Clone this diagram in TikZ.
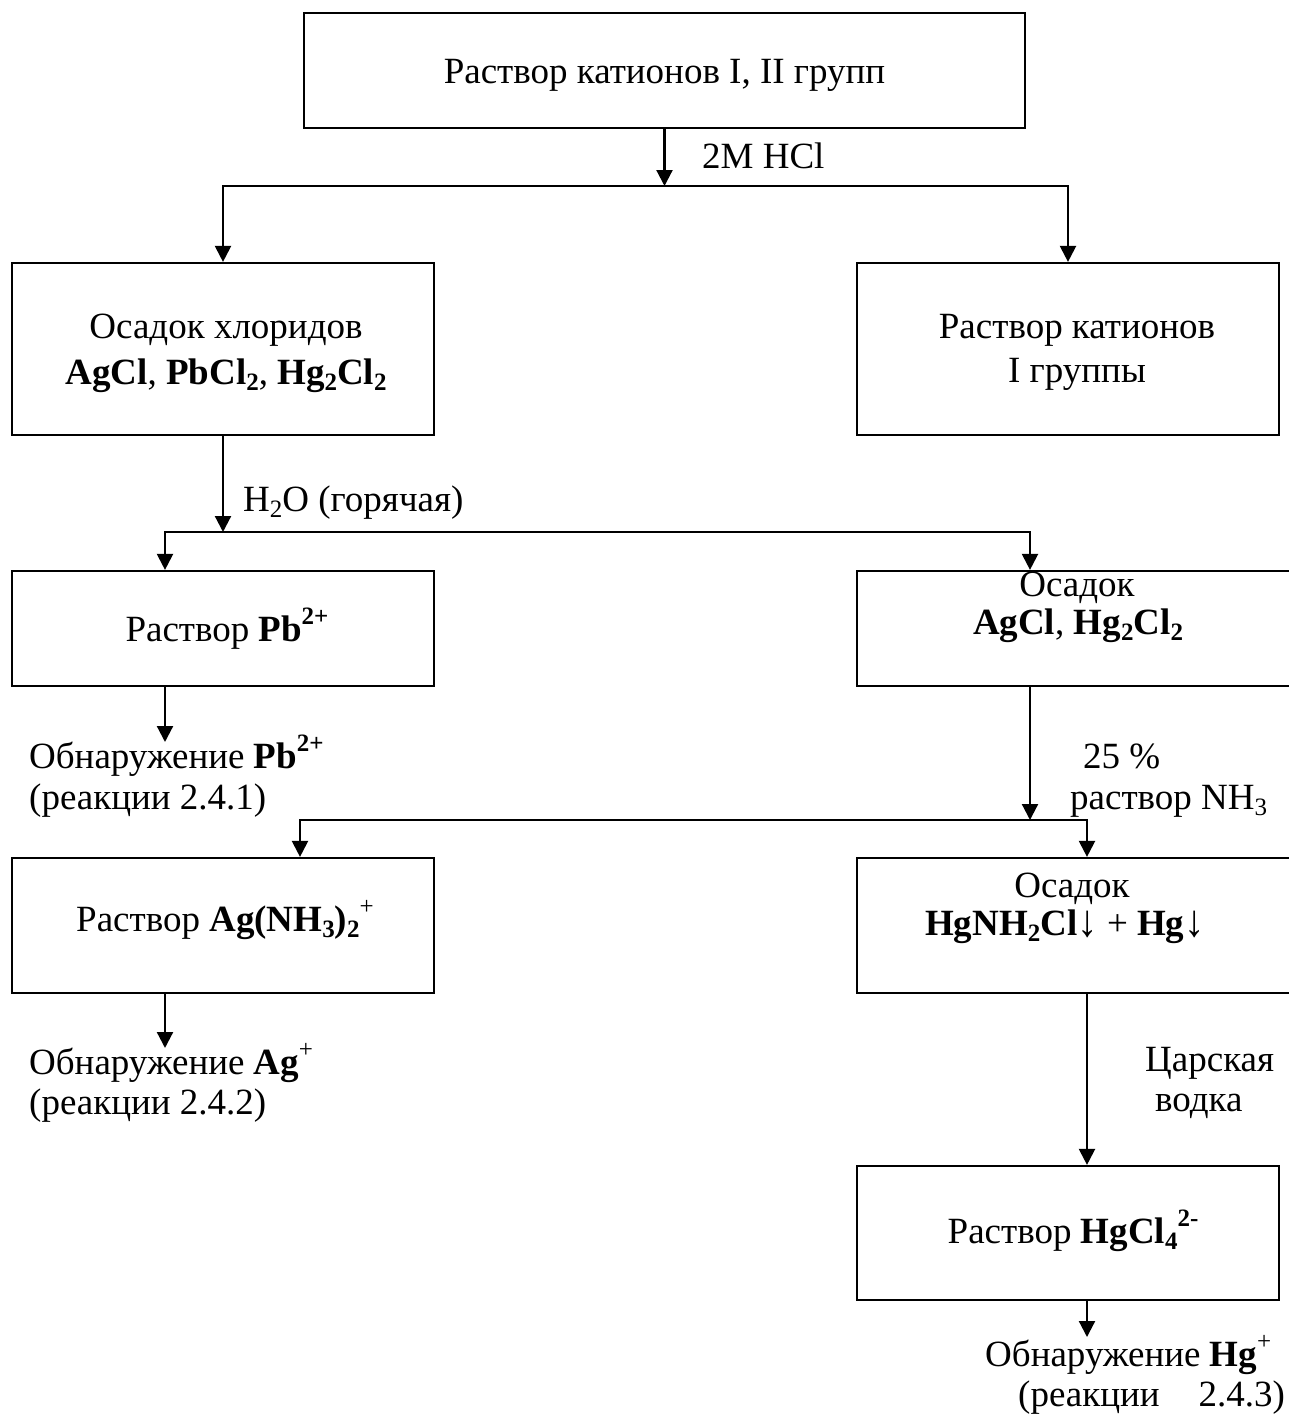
\documentclass[tikz,border=0pt]{standalone}
\usepackage{fontspec}
\setmainfont{Liberation Serif}
\usetikzlibrary{arrows.meta}
% chemical indices: lowered subscript, raised superscript
\newcommand{\chsub}[1]{\raisebox{-0.17em}{\fontsize{25}{25}\selectfont #1}}
\newcommand{\chsup}[1]{\raisebox{0.45em}{\fontsize{25}{25}\selectfont #1}}
% precipitate arrow, about as tall as a capital letter
\newcommand{\precip}{\raisebox{-0.04em}{\scalebox{1.1}[1.22]{↓}}}
\tikzset{
  box/.style={draw, rectangle, line width=2.2pt, inner sep=0pt},
  txt/.style={inner sep=0pt, anchor=base, font=\fontsize{37}{44}\selectfont},
  txtl/.style={txt, anchor=base west},
  link/.style={line width=2.2pt, line cap=rect},
  arr/.style={line width=2.2pt, -{Triangle[width=16pt,length=16pt]}},
}
\begin{document}
\begin{tikzpicture}[x=1pt, y=-1pt]
\useasboundingbox (0,0) rectangle (1289,1419);
\fill[white] (0,0) rectangle (1289,1419);
\clip (0,0) rectangle (1289,1419);

% boxes
\node[box, minimum width=721pt, minimum height=115pt] (top)  at (664.5,70.5) {};
\node[box, minimum width=422pt, minimum height=172pt] (chl)  at (223,349) {};
\node[box, minimum width=422pt, minimum height=172pt] (cat1) at (1068,349) {};
\node[box, minimum width=422pt, minimum height=115pt] (pb)   at (223,628.5) {};
\node[box, minimum width=443pt, minimum height=115pt] (agcl) at (1078.5,628.5) {};
\node[box, minimum width=422pt, minimum height=135pt] (agnh) at (223,925.5) {};
\node[box, minimum width=443pt, minimum height=135pt] (hgnh) at (1078.5,925.5) {};
\node[box, minimum width=422pt, minimum height=134pt] (hgcl) at (1068,1233) {};

% box texts
\node[txt] (topT) at (664.5,83) {Раствор катионов I, II групп};
\node[txt] (chlA) at (226,338) {Осадок хлоридов};
\node[txt] (chlB) at (226,384) {\textbf{AgCl}, \textbf{PbCl\chsub{2}}, \textbf{Hg\chsub{2}Cl\chsub{2}}};
\node[txt] (catA) at (1077,338) {Раствор катионов};
\node[txt] (catB) at (1077,382) {I группы};
\node[txt] (pbT)  at (227,641) {Раствор \textbf{Pb\chsup{2+}}};
\node[txt] (agclA) at (1077,596) {Осадок};
\node[txt] (agclB) at (1078,634) {\textbf{AgCl}, \textbf{Hg\chsub{2}Cl\chsub{2}}};
\node[txt] (agnhT) at (225,931) {Раствор \textbf{Ag(NH\chsub{3})\chsub{2}}\chsup{+}};
\node[txt] (hgnhA) at (1072,897) {Осадок};
\node[txt] (hgnhB) at (1065,935) {\textbf{HgNH\chsub{2}Cl\precip} + \textbf{Hg\precip}};
\node[txt] (hgclT) at (1073,1243) {Раствор \textbf{HgCl\chsub{4}\chsup{2-}}};

% reagent labels
\node[txtl] (hcl)  at (702,168) {2M HCl};
\node[txtl] (h2o)  at (243,511) {H\chsub{2}O (горячая)};
\node[txtl] (nh3a) at (1083,768) {25~\%};
\node[txtl] (nh3b) at (1070,809) {раствор NH\chsub{3}};
\node[txtl] (aqa)  at (1145,1071) {Царская};
\node[txtl] (aqb)  at (1155,1111) {водка};

% detection notes
\node[txtl] (d1a) at (29,768)  {Обнаружение \textbf{Pb\chsup{2+}}};
\node[txtl] (d1b) at (29,809)  {(реакции 2.4.1)};
\node[txtl] (d2a) at (29,1074) {Обнаружение \textbf{Ag}\chsup{+}};
\node[txtl] (d2b) at (29,1114) {(реакции 2.4.2)};
\node[txtl] (d3a) at (985,1366) {Обнаружение \textbf{Hg}\chsup{+}};
\node[txtl] (d3b) at (1018,1406) {(реакции\hspace{39pt}2.4.3)};

% junctions and arrow ends
\coordinate (j1)  at (664.5,186);
\coordinate (j2)  at (223,532);
\coordinate (j2l) at (165,532);
\coordinate (j2r) at (1030,532);
\coordinate (j3)  at (1030,820);
\coordinate (j3l) at (300,820);
\coordinate (j3r) at (1087,820);
\coordinate (e1)  at (165,742);
\coordinate (e2)  at (165,1048);
\coordinate (e3)  at (1087,1337);

% 2M HCl split
\draw[arr] (top.south) -- (j1);
\draw[link] (j1 -| chl.north) -- (j1 -| cat1.north);
\draw[arr] (j1 -| chl.north) -- (chl.north);
\draw[arr] (j1 -| cat1.north) -- (cat1.north);

% hot water split
\draw[arr] (chl.south) -- (j2);
\draw[link] (j2l) -- (j2r);
\draw[arr] (j2l) -- (j2l |- pb.north);
\draw[arr] (j2r) -- (j2r |- agcl.north);
\draw[arr] (pb.south -| e1) -- (e1);

% ammonia split
\draw[arr] (agcl.south -| j3) -- (j3);
\draw[link] (j3l) -- (j3r);
\draw[arr] (j3l) -- (j3l |- agnh.north);
\draw[arr] (j3r) -- (j3r |- hgnh.north);
\draw[arr] (agnh.south -| e2) -- (e2);

% aqua regia
\draw[arr] (hgnh.south -| j3r) -- (hgcl.north -| j3r);
\draw[arr] (hgcl.south -| e3) -- (e3);
\end{tikzpicture}
\end{document}
